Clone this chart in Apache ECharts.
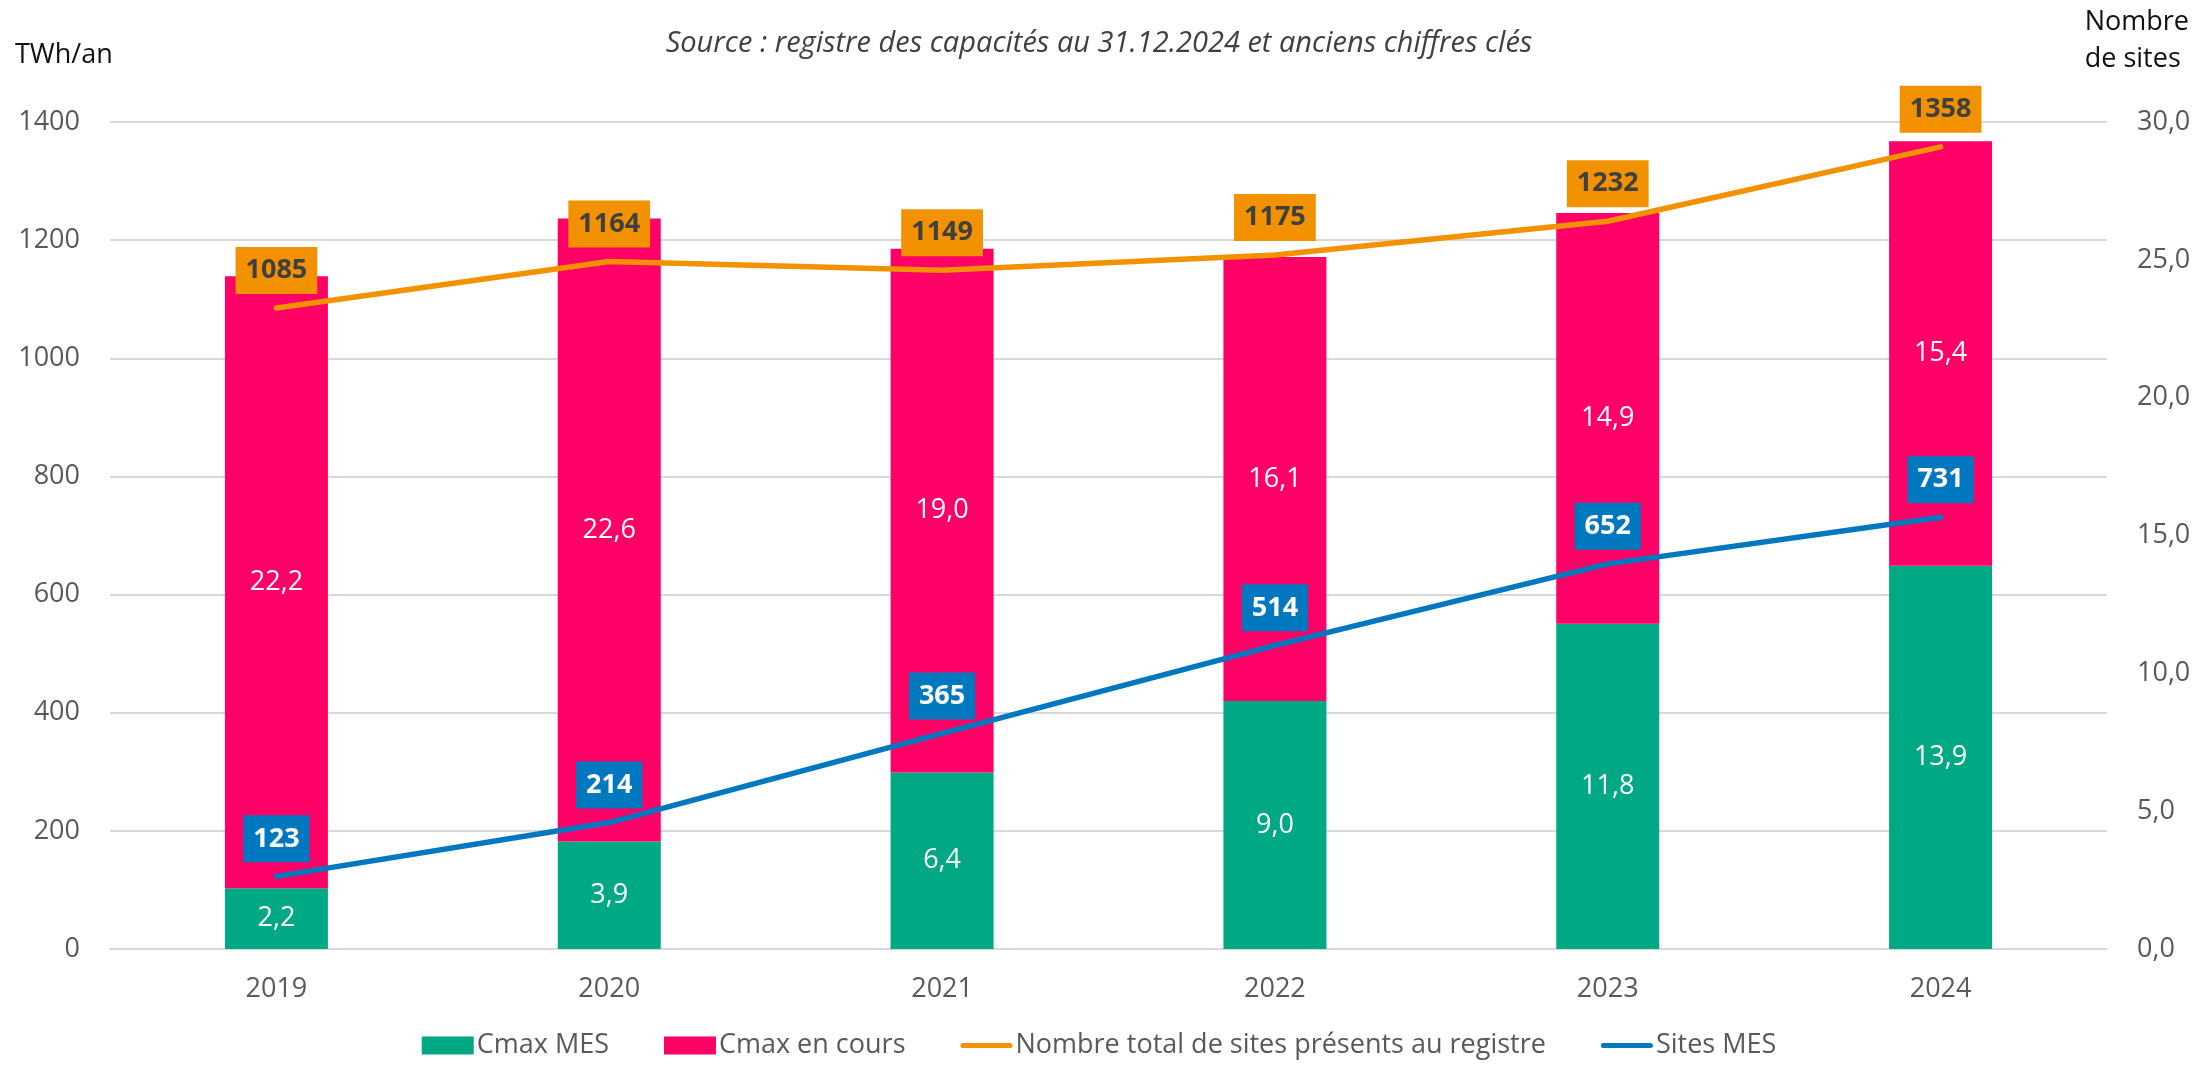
<!DOCTYPE html>
<html>
<head>
<meta charset="utf-8">
<script src="https://cdn.jsdelivr.net/npm/echarts@6/dist/echarts.min.js"></script>
<style>
html,body{margin:0;padding:0;background:#fff;}
#chart{width:2198px;height:1068px;}
</style>
</head>
<body>
<div id="chart"></div>
<script>
var categories = ['2019', '2020', '2021', '2022', '2023', '2024'];
var cmaxMES = [2.2, 3.9, 6.4, 9.0, 11.8, 13.9];
var cmaxEnCours = [22.2, 22.6, 19.0, 16.1, 14.9, 15.4];
var sitesTotal = [1085, 1164, 1149, 1175, 1232, 1358];
var sitesMES = [123, 214, 365, 514, 652, 731];
var leftTicks = {min: 0, max: 1400, interval: 200};
var rightTicks = {min: 0, max: 30, interval: 5};

var FONT = '"Open Sans", sans-serif';
var C_GREEN = '#00A884', C_PINK = '#FF0066', C_ORANGE = '#F39200', C_BLUE = '#0078BF';
function comma1(v){ return Number(v).toFixed(1).replace('.', ','); }

var chart = echarts.init(document.getElementById('chart'));
var lineIcon = 'path://M2.5,0 H49.5 A2.5,2.5 0 0 1 49.5,5 H2.5 A2.5,2.5 0 0 1 2.5,0 Z';

chart.setOption({
  animation: false,
  backgroundColor: '#ffffff',
  textStyle: {fontFamily: FONT},
  title: {
    text: 'Source : registre des capacités au 31.12.2024 et anciens chiffres clés',
    left: 'center', top: 24,
    textStyle: {fontFamily: FONT, fontStyle: 'italic', fontWeight: 'normal', fontSize: 29, color: '#404040'}
  },
  graphic: [
    {type: 'text', left: 15, top: 42, style: {text: 'TWh/an', font: '27px ' + FONT, fill: '#111111'}},
    {type: 'text', right: 9, top: 4, style: {text: 'Nombre\nde sites', font: '27px ' + FONT, fill: '#111111', align: 'right', lineHeight: 37}}
  ],
  legend: {
    bottom: 4, left: 'center',
    itemWidth: 52, itemHeight: 18, itemGap: 55,
    textStyle: {fontFamily: FONT, fontSize: 27, color: '#595959', padding: [0, 0, 0, -2]},
    data: [
      {name: 'Cmax MES', icon: 'rect'},
      {name: 'Cmax en cours', icon: 'rect'},
      {name: 'Nombre total de sites présents au registre', icon: lineIcon},
      {name: 'Sites MES', icon: lineIcon}
    ]
  },
  grid: {left: 110, right: 91, top: 122, bottom: 119},
  xAxis: {
    type: 'category', data: categories,
    axisLine: {lineStyle: {color: '#D9D9D9', width: 2}},
    axisTick: {show: false},
    axisLabel: {fontFamily: FONT, fontSize: 27, color: '#595959', margin: 27}
  },
  yAxis: [
    {
      type: 'value', min: leftTicks.min, max: leftTicks.max, interval: leftTicks.interval,
      axisLine: {show: false}, axisTick: {show: false},
      axisLabel: {fontFamily: FONT, fontSize: 27, color: '#595959', margin: 30,
        formatter: function(v){ return String(v); }},
      splitLine: {lineStyle: {color: '#D9D9D9', width: 2}}
    },
    {
      type: 'value', min: rightTicks.min, max: rightTicks.max, interval: rightTicks.interval,
      axisLine: {show: false}, axisTick: {show: false},
      axisLabel: {fontFamily: FONT, fontSize: 27, color: '#595959', margin: 30, formatter: comma1},
      splitLine: {show: false}
    }
  ],
  series: [
    {
      name: 'Cmax MES', type: 'bar', stack: 'cmax', yAxisIndex: 1, barWidth: 103,
      data: cmaxMES, itemStyle: {color: C_GREEN},
      label: {show: true, position: 'inside', color: '#ffffff', fontFamily: FONT, fontSize: 27,
        formatter: function(p){ return comma1(p.value); }}
    },
    {
      name: 'Cmax en cours', type: 'bar', stack: 'cmax', yAxisIndex: 1, barWidth: 103,
      data: cmaxEnCours, itemStyle: {color: C_PINK},
      label: {show: true, position: 'inside', color: '#ffffff', fontFamily: FONT, fontSize: 27,
        formatter: function(p){ return comma1(p.value); }}
    },
    {
      name: 'Nombre total de sites présents au registre', type: 'line', yAxisIndex: 0,
      data: sitesTotal, symbol: 'circle', symbolSize: 2, z: 5,
      itemStyle: {color: C_ORANGE},
      lineStyle: {color: C_ORANGE, width: 5.5, cap: 'round', join: 'round'},
      label: {show: true, position: 'top', distance: 13, backgroundColor: C_ORANGE, color: '#404040',
        fontFamily: FONT, fontWeight: 'bold', fontSize: 27, lineHeight: 29, padding: [9, 10]}
    },
    {
      name: 'Sites MES', type: 'line', yAxisIndex: 0,
      data: sitesMES, symbol: 'circle', symbolSize: 2, z: 5,
      itemStyle: {color: C_BLUE},
      lineStyle: {color: C_BLUE, width: 5.5, cap: 'round', join: 'round'},
      label: {show: true, position: 'top', distance: 13, backgroundColor: C_BLUE, color: '#ffffff',
        fontFamily: FONT, fontWeight: 'bold', fontSize: 27, lineHeight: 29, padding: [9, 10]}
    }
  ]
});
</script>
</body>
</html>
